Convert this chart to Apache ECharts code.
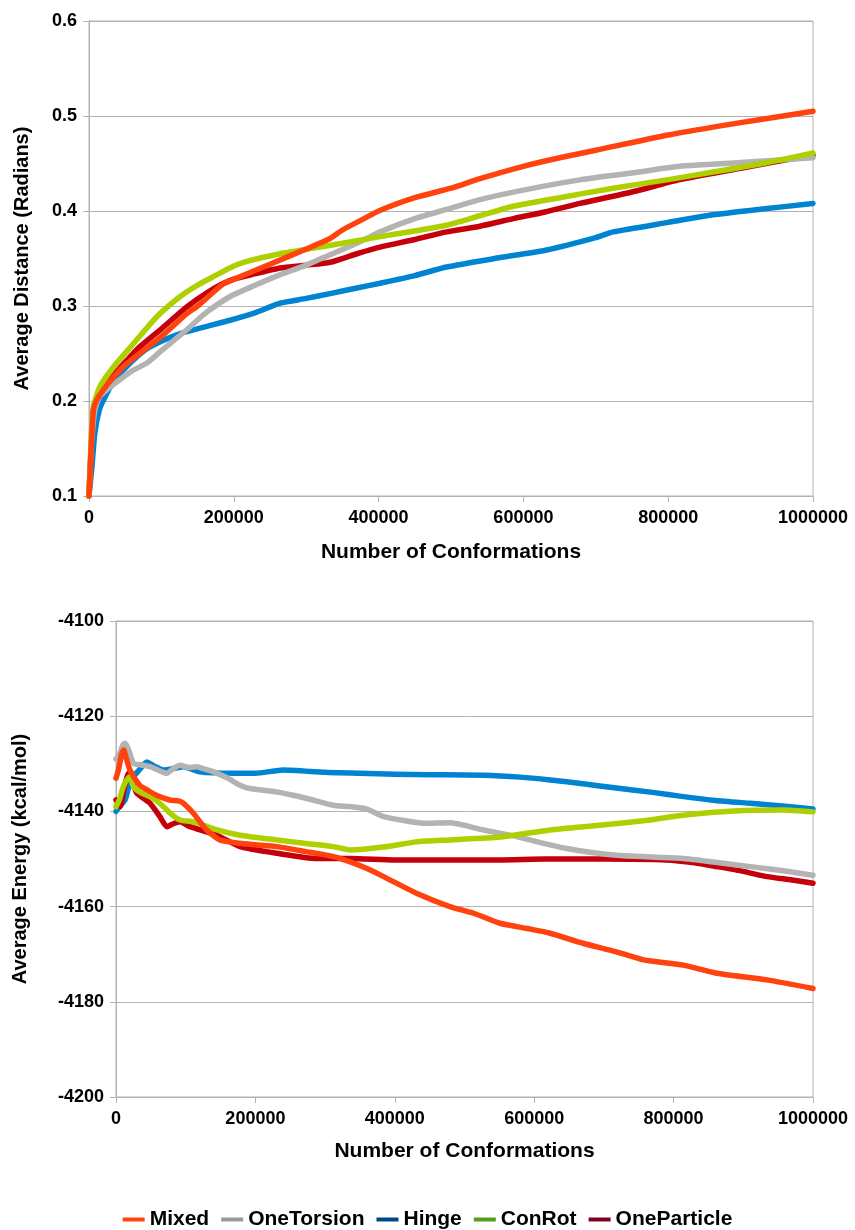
<!DOCTYPE html>
<html>
<head>
<meta charset="utf-8">
<script src="https://cdn.jsdelivr.net/npm/echarts@6/dist/echarts.min.js"></script>
<style>
html,body{margin:0;padding:0;background:#fff;}
#chart{width:855px;height:1230px;}
</style>
</head>
<body>
<div id="chart"></div>
<script>
// ---- Data (x = number of conformations) ----
var seriesNames = ['Mixed', 'OneTorsion', 'Hinge', 'ConRot', 'OneParticle'];
var xTicks = [0, 200000, 400000, 600000, 800000, 1000000];

// Top chart: Average Distance (Radians)
var distMixed = [[0,0.10],[3000,0.15],[6000,0.19],[10000,0.200],[20000,0.212],[35000,0.226],[50000,0.238],[75000,0.253],[100000,0.268],[135000,0.292],[150000,0.300],[185000,0.323],[200000,0.328],[250000,0.344],[300000,0.360],[333000,0.371],[350000,0.380],[380000,0.392],[400000,0.400],[450000,0.414],[500000,0.424],[540000,0.434],[600000,0.447],[650000,0.456],[700000,0.464],[800000,0.480],[900000,0.493],[1000000,0.505]];
var distOneTorsion = [[0,0.10],[3000,0.15],[8000,0.19],[15000,0.205],[35000,0.218],[60000,0.232],[80000,0.240],[100000,0.253],[135000,0.275],[160000,0.292],[195000,0.310],[230000,0.322],[264000,0.333],[300000,0.343],[333000,0.354],[370000,0.366],[402000,0.378],[450000,0.392],[500000,0.403],[540000,0.412],[600000,0.422],[680000,0.433],[750000,0.440],[816000,0.447],[900000,0.451],[1000000,0.456]];
var distHinge = [[0,0.10],[4000,0.13],[8000,0.166],[14000,0.19],[20000,0.201],[35000,0.222],[57000,0.240],[80000,0.255],[103000,0.264],[126000,0.271],[160000,0.278],[195000,0.285],[230000,0.293],[264000,0.303],[300000,0.308],[333000,0.313],[370000,0.319],[402000,0.324],[450000,0.332],[494000,0.341],[560000,0.350],[632000,0.359],[700000,0.372],[724000,0.378],[800000,0.388],[862000,0.396],[930000,0.402],[1000000,0.408]];
var distConRot = [[0,0.10],[3000,0.16],[6000,0.194],[15000,0.215],[34000,0.236],[61000,0.260],[94000,0.289],[126000,0.310],[150000,0.322],[172000,0.331],[200000,0.342],[218000,0.347],[264000,0.355],[310000,0.361],[350000,0.366],[402000,0.373],[450000,0.379],[494000,0.385],[540000,0.395],[586000,0.405],[650000,0.414],[724000,0.424],[800000,0.433],[862000,0.441],[930000,0.450],[1000000,0.461]];
var distOneParticle = [[0,0.10],[3000,0.15],[7000,0.19],[15000,0.205],[35000,0.228],[55000,0.245],[70000,0.257],[100000,0.276],[135000,0.299],[165000,0.315],[195000,0.327],[230000,0.334],[264000,0.340],[300000,0.343],[333000,0.346],[370000,0.355],[402000,0.362],[450000,0.370],[494000,0.378],[540000,0.384],[586000,0.392],[630000,0.399],[678000,0.408],[750000,0.420],[816000,0.433],[900000,0.445],[1000000,0.459]];

// Bottom chart: Average Energy (kcal/mol)
var enMixed = [[0,-4133],[4000,-4131],[8000,-4128],[11000,-4127.1],[15000,-4129],[20000,-4131.3],[34000,-4134.5],[45000,-4135.5],[58000,-4136.6],[77000,-4137.6],[90000,-4137.8],[97000,-4138.3],[111000,-4140.4],[130000,-4143.9],[149000,-4146],[178000,-4146.7],[200000,-4147],[231000,-4147.4],[274000,-4148.5],[312000,-4149.5],[336000,-4150.6],[360000,-4152],[384000,-4153.7],[431000,-4157.2],[479000,-4160],[515000,-4161.5],[551000,-4163.5],[590000,-4164.6],[623000,-4165.6],[670000,-4167.7],[718000,-4169.5],[757000,-4171.2],[814000,-4172.3],[862000,-4174],[934000,-4175.4],[1000000,-4177.2]];
var enOneTorsion = [[0,-4129],[5000,-4128],[10000,-4126],[13000,-4125.7],[18000,-4127],[25000,-4129.9],[35000,-4130.2],[49000,-4130.6],[60000,-4131.3],[73000,-4132],[82000,-4131],[92000,-4130.3],[104000,-4130.8],[116000,-4130.6],[125000,-4131],[140000,-4131.7],[160000,-4133],[178000,-4134.5],[192000,-4135.2],[230000,-4135.9],[254000,-4136.6],[280000,-4137.5],[312000,-4138.7],[336000,-4139],[360000,-4139.5],[384000,-4141.1],[446000,-4142.5],[479000,-4142.4],[527000,-4143.9],[575000,-4145.3],[610000,-4146.6],[647000,-4147.8],[680000,-4148.6],[718000,-4149.2],[770000,-4149.6],[814000,-4149.9],[860000,-4150.7],[910000,-4151.6],[960000,-4152.5],[1000000,-4153.4]];
var enHinge = [[0,-4140],[5000,-4139],[13000,-4137.6],[20000,-4134],[25000,-4132.7],[35000,-4131],[44000,-4129.6],[55000,-4130.5],[68000,-4131.3],[97000,-4130.6],[120000,-4131.7],[168000,-4132],[200000,-4132],[240000,-4131.3],[300000,-4131.8],[350000,-4132],[400000,-4132.2],[450000,-4132.3],[527000,-4132.4],[580000,-4132.8],[623000,-4133.4],[670000,-4134.2],[718000,-4135.1],[770000,-4136],[814000,-4136.9],[860000,-4137.7],[910000,-4138.3],[960000,-4138.9],[1000000,-4139.5]];
var enConRot = [[0,-4139],[5000,-4137.5],[10000,-4135],[15000,-4133.5],[20000,-4132.7],[25000,-4134.8],[35000,-4136],[49000,-4136.9],[63000,-4138.3],[78000,-4140.4],[92000,-4141.8],[111000,-4142.2],[145000,-4143.9],[178000,-4145],[231000,-4146],[270000,-4146.7],[312000,-4147.4],[336000,-4148.1],[383000,-4147.5],[431000,-4146.4],[479000,-4146],[551000,-4145.4],[623000,-4143.9],[694000,-4142.9],[766000,-4141.8],[814000,-4140.8],[886000,-4139.9],[957000,-4139.7],[1000000,-4140.1]];
var enOneParticle = [[0,-4137.6],[6000,-4139],[12000,-4135],[18000,-4132],[24000,-4134],[30000,-4136.2],[49000,-4138.3],[63000,-4141.1],[73000,-4143.2],[82000,-4142.6],[92000,-4142.2],[106000,-4143.2],[145000,-4145],[178000,-4147.4],[231000,-4148.8],[288000,-4149.9],[336000,-4149.9],[400000,-4150.2],[500000,-4150.2],[550000,-4150.2],[617000,-4150],[700000,-4150],[790000,-4150.2],[830000,-4150.8],[862000,-4151.6],[900000,-4152.6],[934000,-4153.7],[970000,-4154.4],[1000000,-4155.1]];

// ---- Styling ----
var lineColors = {Mixed:'#ff420e', OneTorsion:'#b3b3b3', Hinge:'#0084d1', ConRot:'#aecf00', OneParticle:'#c5000b'};
var legendColors = {Mixed:'#ff420e', OneTorsion:'#999999', Hinge:'#004586', ConRot:'#579d1c', OneParticle:'#7e0021'};
var FONT = '"Liberation Sans", Arial, sans-serif';
var AX = '#b3b3b3';

function xAxisCfg(gi, gap) {
  return {
    type:'value', gridIndex:gi, min:0, max:1000000, interval:200000,
    name:'Number of Conformations', nameLocation:'middle', nameGap:gap,
    nameTextStyle:{fontFamily:FONT, fontWeight:'bold', fontSize:21, color:'#000'},
    axisLine:{show:true, lineStyle:{color:AX, width:1}},
    axisTick:{show:true, inside:false, length:6, lineStyle:{color:AX}},
    axisLabel:{fontFamily:FONT, fontWeight:'bold', fontSize:18, color:'#000', margin:13,
      formatter:function(v){return String(v);}},
    splitLine:{show:false}
  };
}
function yAxisCfg(gi, name, min, max, interval, gap, fmt) {
  return {
    type:'value', gridIndex:gi, min:min, max:max, interval:interval,
    name:name, nameLocation:'middle', nameGap:gap,
    nameTextStyle:{fontFamily:FONT, fontWeight:'bold', fontSize:20, color:'#000'},
    axisLine:{show:true, lineStyle:{color:AX, width:1}},
    axisTick:{show:true, inside:false, length:6, lineStyle:{color:AX}},
    axisLabel:{fontFamily:FONT, fontWeight:'bold', fontSize:18, color:'#000', margin:12, formatter:fmt},
    splitLine:{show:true, lineStyle:{color:AX, width:1}}
  };
}

var topData = {Mixed:distMixed, OneTorsion:distOneTorsion, Hinge:distHinge, ConRot:distConRot, OneParticle:distOneParticle};
var botData = {Mixed:enMixed, OneTorsion:enOneTorsion, Hinge:enHinge, ConRot:enConRot, OneParticle:enOneParticle};
var drawOrder = ['Hinge', 'OneParticle', 'OneTorsion', 'ConRot', 'Mixed'];

var series = [];
[[topData,0],[botData,1]].forEach(function(p){
  drawOrder.forEach(function(n){
    series.push({
      name:n, type:'line', xAxisIndex:p[1], yAxisIndex:p[1],
      data:p[0][n], showSymbol:false, symbol:'none', smooth:0.2,
      lineStyle:{color:lineColors[n], width:5.5, cap:'round', join:'round'},
      itemStyle:{color:lineColors[n]},
      emphasis:{disabled:true}, animation:false
    });
  });
});

var option = {
  backgroundColor:'#fff',
  animation:false,
  grid:[
    {left:89, top:21, width:724, height:475, show:true, borderColor:AX, borderWidth:1, backgroundColor:'transparent'},
    {left:116, top:621, width:697, height:476, show:true, borderColor:AX, borderWidth:1, backgroundColor:'transparent'}
  ],
  xAxis:[xAxisCfg(0, 46), xAxisCfg(1, 44)],
  yAxis:[
    yAxisCfg(0, 'Average Distance (Radians)', 0.1, 0.6, 0.1, 57, function(v){return v.toFixed(1);}),
    yAxisCfg(1, 'Average Energy (kcal/mol)', -4200, -4100, 20, 86, function(v){return String(v);})
  ],
  legend:{
    show:true, left:'center', top:1204, icon:'rect', itemWidth:22, itemHeight:4, itemGap:12,
    textStyle:{fontFamily:FONT, fontWeight:'bold', fontSize:21, color:'#000'},
    data:seriesNames.map(function(n){return {name:n, itemStyle:{color:legendColors[n]}};})
  },
  series:series
};

var chart = echarts.init(document.getElementById('chart'), null, {renderer:'canvas'});
chart.setOption(option);
</script>
</body>
</html>
